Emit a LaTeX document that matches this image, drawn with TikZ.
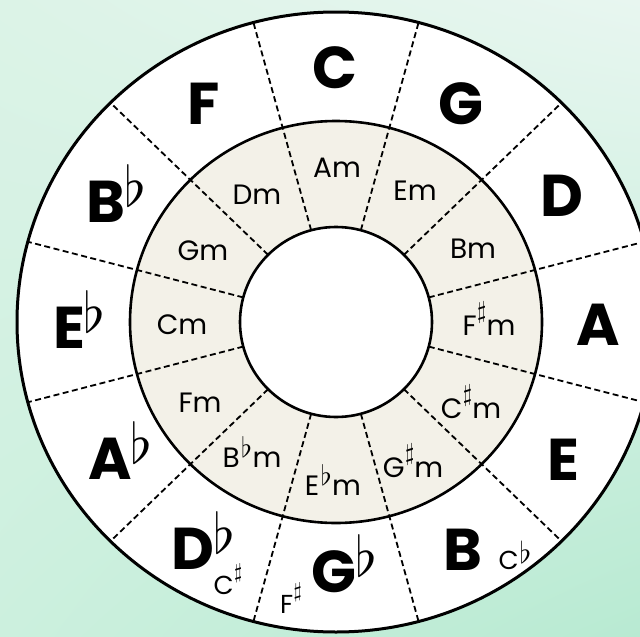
\documentclass[tikz,border=0pt]{standalone}
\usepackage{fontspec}
\usepackage{graphicx}
\usetikzlibrary{shadings}
\setmainfont{Poppins}
\definecolor{bgA}{RGB}{220,243,231}
\definecolor{bgB}{RGB}{232,246,240}
\definecolor{bgC}{RGB}{204,240,222}
\definecolor{bgD}{RGB}{184,234,210}
\definecolor{ringbeige}{RGB}{243,241,232}
\newcommand\flt[2]{\raisebox{#2}{\scalebox{#1}{\fontsize{10}{12}\selectfont$\flat$}}}
\newcommand\shp[2]{\raisebox{#2}{\scalebox{#1}{\fontsize{10}{12}\selectfont$\sharp$}}}
\newcommand\majflat{\rlap{\kern-1pt\flt{5.6}{16pt}}}
\newcommand\minflat{\kern1.5pt\flt{2.8}{10pt}\kern0.5pt}
\newcommand\minsharp{\kern0.5pt\shp{2.4}{17pt}\kern0pt}
\newcommand\altsharp{\kern0.5pt\shp{2.1}{16pt}}
\newcommand\altflat{\kern1pt\flt{3}{6pt}}
\begin{document}
\begin{tikzpicture}[x=1pt,y=-1pt,
  ring/.style={line width=2.6pt},
  divider/.style={line width=1.8pt, dash pattern=on 6pt off 3.5pt},
  major/.style={font=\fontsize{59}{59}\selectfont\bfseries, anchor=base, inner sep=0pt},
  minor/.style={font=\fontsize{28}{28}\selectfont, anchor=base, inner sep=0pt},
  alt/.style={font=\fontsize{26}{26}\selectfont, anchor=base, inner sep=0pt}]
\useasboundingbox (0,0) rectangle (640,637);
\clip (0,0) rectangle (640,637);
\shade[upper left=bgA, upper right=bgB, lower left=bgC, lower right=bgD] (0,0) rectangle (640,637);
\begin{scope}[shift={(336,322)}]
  \fill[white] (0,0) ellipse [x radius=319pt, y radius=310pt];
  \fill[ringbeige] (0,0) ellipse [x radius=206pt, y radius=201pt];
  \fill[white] (0,0) ellipse [x radius=96pt, y radius=95pt];
  \foreach \a in {15,45,...,345}
    \draw[divider] (\a:96pt and 95pt) -- (\a:319pt and 310pt);
  \draw[line width=3pt] (0,0) ellipse [x radius=319pt, y radius=310pt];
  \draw[ring] (0,0) ellipse [x radius=206pt, y radius=201pt];
  \draw[ring] (0,0) ellipse [x radius=96pt, y radius=95pt];
\end{scope}
% major keys
\node[major] (kC) at (335,88) {C};
\node[major] (kG) at (461,124.5) {G};
\node[major] (kD) at (562,216) {D};
\node[major] (kA) at (598,345) {A};
\node[major] (kE) at (563,480) {E};
\node[major] (kB) at (463,570) {B};
\node[major] (kGb) at (334,592) {G\majflat};
\node[major] (kDb) at (193,569) {D\majflat};
\node[major] (kAb) at (110,479) {A\majflat};
\node[major] (kEb) at (69,348) {E\majflat};
\node[major] (kBb) at (106,222) {B\majflat};
\node[major] (kF) at (204,124.5) {F};
% enharmonic alternatives
\node[alt] (aCs) at (228,594) {C\altsharp};
\node[alt] (aFs) at (291,613) {F\altsharp};
\node[alt] (aCb) at (515,569) {C\altflat};
% minor keys
\node[minor] (mA) at (337,177) {Am};
\node[minor] (mE) at (415,200) {Em};
\node[minor] (mB) at (473,258) {Bm};
\node[minor] (mFs) at (489,335) {F\minsharp m};
\node[minor] (mCs) at (471,418) {C\minsharp m};
\node[minor] (mGs) at (413,477) {G\minsharp m};
\node[minor] (mEb) at (333,495) {E\minflat m};
\node[minor] (mBb) at (252,467) {B\minflat m};
\node[minor] (mF) at (200,412) {Fm};
\node[minor] (mC) at (182,334) {Cm};
\node[minor] (mG) at (203,260) {Gm};
\node[minor] (mD) at (257,204) {Dm};
\end{tikzpicture}
\end{document}
